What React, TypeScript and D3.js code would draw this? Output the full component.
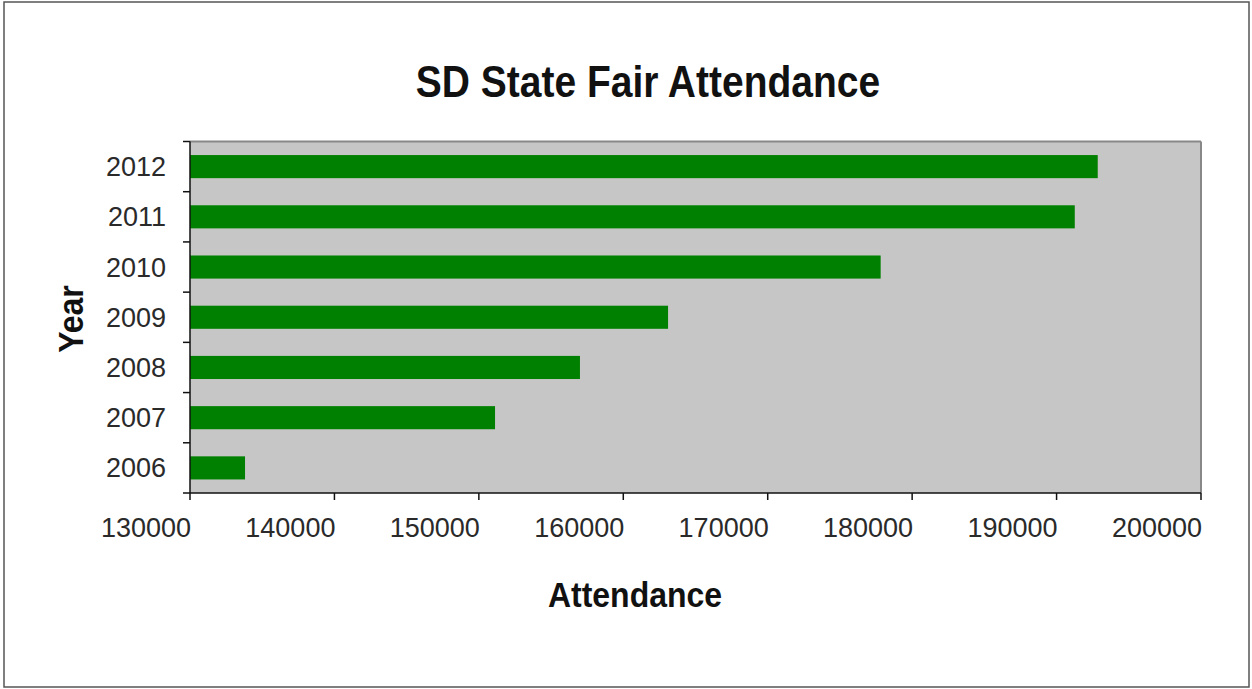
import React from "react";
import * as d3 from "d3";

const years = ["2006", "2007", "2008", "2009", "2010", "2011", "2012"];
const attendance = [133810, 151120, 157000, 163100, 177820, 191260, 192850];
const xTicks = [130000, 140000, 150000, 160000, 170000, 180000, 190000, 200000];

const W = 1252;
const H = 689;
const left = 190;
const right = 1201;
const top = 141.5;
const bottom = 493;
const font = "Arial, 'Liberation Sans', Helvetica, sans-serif";

export default function App() {
  const x = d3.scaleLinear().domain([130000, 200000]).range([left, right]);
  const y = d3
    .scaleBand<string>()
    .domain([...years].reverse())
    .range([top, bottom])
    .paddingInner(0.54)
    .paddingOuter(0.27);
  const band = d3.scaleBand<string>().domain([...years].reverse()).range([top, bottom]);
  const bw = band.bandwidth();
  const boundaries = d3.range(years.length + 1).map((i) => top + i * bw);

  return (
    <svg
      width={W}
      height={H}
      style={{ position: "absolute", left: 0, top: 0, background: "#fff" }}
    >
      <rect x={4} y={2} width={1245} height={685} fill="#fff" stroke="#555" strokeWidth={1.5} />
      <text
        x={648}
        y={0}
        textAnchor="middle"
        fontFamily={font}
        fontWeight="bold"
        fontSize={39}
        fill="#111"
        transform="translate(0,96.5) scale(1,1.12)"
      >
        SD State Fair Attendance
      </text>
      <rect x={left} y={top} width={right - left} height={bottom - top} fill="#c6c6c6" />
      <line x1={left} y1={top} x2={right} y2={top} stroke="#888" strokeWidth={2} />
      <line x1={right} y1={top} x2={right} y2={bottom} stroke="#888" strokeWidth={2} />
      {years.map((yr, i) => (
        <rect
          key={yr}
          x={x(130000)}
          y={y(yr)!}
          width={x(attendance[i]) - x(130000)}
          height={y.bandwidth()}
          fill="#008000"
        />
      ))}
      <line x1={left} y1={bottom} x2={right} y2={bottom} stroke="#111" strokeWidth={1.5} />
      <line x1={left} y1={top} x2={left} y2={bottom} stroke="#111" strokeWidth={1.5} />
      {boundaries.map((b, i) => (
        <line key={i} x1={left - 7} y1={b} x2={left} y2={b} stroke="#111" strokeWidth={1.5} />
      ))}
      {xTicks.map((t) => (
        <g key={t}>
          <line x1={x(t)} y1={bottom} x2={x(t)} y2={bottom + 7} stroke="#111" strokeWidth={1.5} />
          <text
            x={x(t) + 1}
            y={537}
            textAnchor="end"
            fontFamily={font}
            fontSize={27}
            fill="#2a2a2a"
          >
            {t}
          </text>
        </g>
      ))}
      {years.map((yr) => (
        <text
          key={yr}
          x={166}
          y={band(yr)! + bw / 2 + 9.5}
          textAnchor="end"
          fontFamily={font}
          fontSize={27}
          fill="#2a2a2a"
        >
          {yr}
        </text>
      ))}
      <text
        x={0}
        y={0}
        textAnchor="middle"
        fontFamily={font}
        fontWeight="bold"
        fontSize={32}
        fill="#111"
        transform="translate(635,606.5) scale(1,1.1)"
      >
        Attendance
      </text>
      <text
        x={0}
        y={0}
        textAnchor="middle"
        fontFamily={font}
        fontWeight="bold"
        fontSize={32}
        fill="#111"
        transform="translate(83,319) rotate(-90) scale(1,1.1)"
      >
        Year
      </text>
    </svg>
  );
}
